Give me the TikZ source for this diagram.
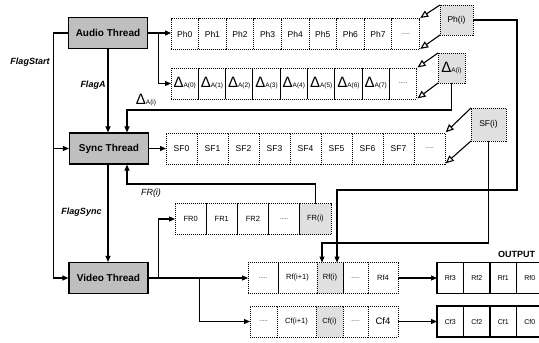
\documentclass[tikz,border=0pt]{standalone}
\usepackage{fontspec}
\setmainfont{Liberation Sans}
\usepackage{tikz}
\usetikzlibrary{arrows.meta, positioning, calc}

\newcommand{\deltaA}[1]{{\fontsize{15}{15}\selectfont Δ}{\fontsize{6.5}{7}\selectfont A(#1)}}
\newcommand{\cellgap}{{\fontsize{6}{7}\selectfont .....}}

\begin{document}
\begin{tikzpicture}[
    x=1pt, y=-1pt,
    thread/.style  = {rectangle, draw, line width=1.2pt, fill=black!25,
                      minimum width=79pt, minimum height=31pt,
                      font=\fontsize{10}{12}\selectfont\bfseries},
    cell/.style    = {rectangle, draw, densely dotted, line width=1pt,
                      inner sep=0pt, outer sep=0pt, minimum height=31pt,
                      font=\fontsize{8.5}{10}\selectfont},
    pick/.style    = {cell, fill=black!12},
    outcell/.style = {rectangle, draw, line width=1.2pt, inner sep=0pt,
                      outer sep=0pt, minimum width=26.5pt, minimum height=31pt,
                      font=\fontsize{7}{8}\selectfont},
    flag/.style    = {font=\fontsize{9}{11}\selectfont\bfseries\itshape},
    arr/.style     = {-{Triangle[length=6pt,width=5pt]}, line width=1.1pt},
    oarr/.style    = {-{Triangle[open,length=8pt,width=7pt]}, line width=1.1pt,
                      shorten >=1pt}
]
  \useasboundingbox (0,0) rectangle (539,343);
  \clip (0,0) rectangle (539,343);

  % threads
  \node[thread] (audio) at (108,33)    {Audio Thread};
  \node[thread] (sync)  at (109,148.5) {Sync Thread};
  \node[thread] (video) at (108.5,278) {Video Thread};

  % phase buffer
  \foreach \i in {0,...,7}
    \node[cell, minimum width=27.6pt] (ph\i) at ({184.8+27.6*\i},34) {Ph\i};
  \node[cell, minimum width=27.6pt, right=0pt of ph7] (phd) {\cellgap};
  \node[pick, minimum width=33pt, minimum height=30pt] (phi) at (456.5,20) {Ph(i)};

  % amplitude buffer
  \foreach \i in {0,...,7}
    \node[cell, minimum width=27.3pt] (da\i) at ({184.65+27.3*\i},83.5) {\deltaA{\i}};
  \node[cell, minimum width=27.3pt, right=0pt of da7] (dad) {\cellgap};
  \node[pick, minimum width=27pt, minimum height=30pt] (dai) at (451.5,68) {\deltaA{i}};

  % sync frames
  \foreach \i in {0,...,7}
    \node[cell, minimum width=31pt] (sf\i) at ({181.5+31*\i},148.5) {SF\i};
  \node[cell, minimum width=31pt, right=0pt of sf7] (sfd) {\cellgap};
  \node[pick, minimum width=35pt, minimum height=33pt] (sfi) at (488.5,124.5) {SF(i)};

  % frame requests
  \foreach \i in {0,...,2}
    \node[cell, minimum width=31.2pt, font=\fontsize{7.5}{9}\selectfont]
      (fr\i) at ({190.6+31.2*\i},219) {FR\i};
  \node[cell, minimum width=31.2pt, right=0pt of fr2] (frd) {\cellgap};
  \node[pick, minimum width=31.2pt, font=\fontsize{7.5}{9}\selectfont,
        right=0pt of frd] (fri) {FR(i)};

  % row frames
  \node[cell, minimum width=30pt] (rfd) at (263,278) {\cellgap};
  \node[cell, minimum width=39pt, font=\fontsize{7.5}{9}\selectfont, right=0pt of rfd] (rfn) {Rf(i+1)};
  \node[pick, minimum width=26pt, font=\fontsize{7.5}{9}\selectfont, right=0pt of rfn] (rfi) {Rf(i)};
  \node[cell, minimum width=25pt, right=0pt of rfi] (rfe) {\cellgap};
  \node[cell, minimum width=30pt, font=\fontsize{7.5}{9}\selectfont, right=0pt of rfe] (rf4) {Rf4};

  % column frames
  \node[cell, minimum width=27pt] (cfd) at (263.5,321.5) {\cellgap};
  \node[cell, minimum width=39pt, font=\fontsize{7.5}{9}\selectfont, right=0pt of cfd] (cfn) {Cf(i+1)};
  \node[pick, minimum width=27pt, font=\fontsize{7.5}{9}\selectfont, right=0pt of cfn] (cfi) {Cf(i)};
  \node[cell, minimum width=25pt, right=0pt of cfi] (cfe) {\cellgap};
  \node[cell, minimum width=30pt, font=\fontsize{9.5}{11}\selectfont, right=0pt of cfe] (cf4) {Cf4};

  % output
  \node[outcell] (orf3) at (450.25,278) {Rf3};
  \node[outcell, right=0pt of orf3] (orf2) {Rf2};
  \node[outcell, right=0pt of orf2] (orf1) {Rf1};
  \node[outcell, right=0pt of orf1] (orf0) {Rf0};
  \node[outcell] (ocf3) at (450.25,321.5) {Cf3};
  \node[outcell, right=0pt of ocf3] (ocf2) {Cf2};
  \node[outcell, right=0pt of ocf2] (ocf1) {Cf1};
  \node[outcell, right=0pt of ocf1] (ocf0) {Cf0};
  \node[font=\fontsize{9}{11}\selectfont\bfseries, anchor=south]
    (outlbl) at ($(orf1.north east)+(0,-1)$) {OUTPUT};

  % flags
  \draw[arr] (audio.west) -- ++(-14,0) coordinate (fs) |- (sync.west);
  \draw[arr] (fs) |- (video.west);
  \node[flag] (lstart) at (30,62) {FlagStart};
  \draw[arr] (audio.south) -- (audio.south |- sync.north);
  \node[flag] (la) at (93,85) {FlagA};
  \draw[arr] (sync.south -| audio.south) -- (video.north -| audio.south);
  \node[flag] (lsync) at (81.5,212) {FlagSync};

  % audio out
  \draw[arr] (audio.east) -- (audio.east -| ph0.west);
  \draw[arr] (audio.east) ++(10,0) |- (da0.west);
  \draw[oarr] (phi.north west) -- (phd.north east);
  \draw[oarr] (phi.south west) -- (phd.south east);
  \draw[oarr] (dai.north west) -- (dad.north east);
  \draw[oarr] (dai.south west) -- (dad.south east);

  % sync out
  \draw[arr] (sync.east) -- (sync.east -| sf0.west);
  \draw[oarr] (sfi.north west) -- (sfd.north east);
  \draw[oarr] (sfi.south west) -- (sfd.south east);

  % feedback
  \coordinate (dtap) at (127,110);
  \draw[arr] (dai.south) |- (dtap) -- (dtap |- sync.north);
  \node[anchor=south] (ldai) at (146,109) {\deltaA{i}};
  \coordinate (ftap) at (127,184);
  \draw[arr] (fri.north) |- (ftap) -- (ftap |- sync.south);
  \node[font=\fontsize{9}{11}\selectfont\itshape] (lfr) at (151,193) {FR(i)};

  % video out
  \draw[arr] (video.east) -- (video.east -| rfd.west);
  \draw[arr] (video.east) ++(10,0) |- (fr0.west);
  \draw[arr] (video.east) ++(51,0) |- (cfd.west);

  % into Rf(i)
  \coordinate (ptap) at (517,190);
  \draw[arr] (phi.east) -| (ptap) -| ($(rfi.north)+(7,0)$);
  \coordinate (stap) at (322,243);
  \draw[arr] (sfi.south) |- (stap) -- (stap |- rfi.north);

  % to output
  \draw[arr] (rf4.east) -- (orf3.west);
  \draw[arr] (cf4.east) -- (ocf3.west);
\end{tikzpicture}
\end{document}
